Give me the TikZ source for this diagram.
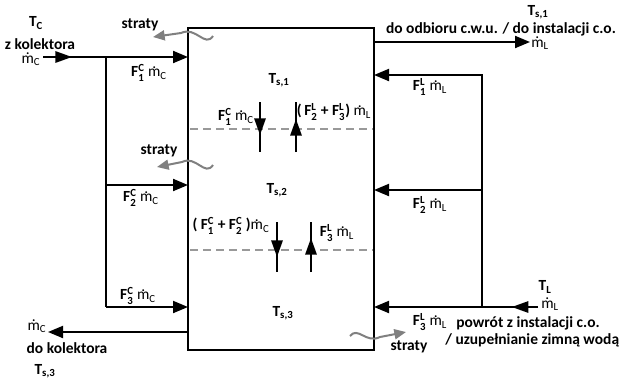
\documentclass[tikz,border=0pt]{standalone}
\usepackage{amsmath}
\usepackage{fontspec}
\setmainfont{Carlito}
\usetikzlibrary{arrows.meta,decorations.markings}

\newcommand{\mdt}{\leavevmode\hbox{\ooalign{m\cr\hidewidth\raisebox{1.2ex}{.}\hidewidth\cr}}}
\newcommand{\mfl}[1]{{\mdseries\mdt}$_{\text{\mdseries #1}}$}
\newcommand{\Fr}[2]{F$^{\text{#2}}_{\text{#1}}$}
\newcommand{\Ts}[1]{T$_{\text{s,#1}}$}

\begin{document}
\begin{tikzpicture}[
    x=0.03cm, y=-0.03cm,
    font=\fontsize{13.2}{15}\selectfont\bfseries,
    pipe/.style={line width=0.06cm},
    arr/.style={pipe, -{Triangle[length=0.45cm, width=0.36cm]}},
    midarr/.style={decoration={markings, mark=at position #1 with {\arrow{Triangle[length=0.5cm, width=0.34cm]}}}, postaction={decorate}},
    layer/.style={gray!80, line width=0.045cm, dash pattern=on 0.24cm off 0.15cm},
    loss/.style={gray, line width=0.06cm, -{Triangle[length=0.35cm, width=0.3cm]}},
    lbl/.style={inner sep=1pt}
  ]
    \useasboundingbox (0,0) rectangle (619,380);

    \node[draw, pipe, minimum width=5.58cm, minimum height=9.66cm, inner sep=0] (tank) at (281,189) {};

    \coordinate (cin) at (43,57);
    \coordinate (jc1) at (106,57);
    \coordinate (jc2) at (106,185);
    \coordinate (jc3) at (106,307);
    \coordinate (w1) at (188,57);
    \coordinate (w2) at (188,185);
    \coordinate (w3) at (188,307);
    \coordinate (w4) at (188,332);
    \coordinate (cout) at (48,332);

    \coordinate (e1) at (374,42);
    \coordinate (rout) at (530,42);
    \coordinate (e2) at (374,75);
    \coordinate (e3) at (374,190);
    \coordinate (e4) at (374,307);
    \coordinate (jl1) at (482,75);
    \coordinate (jl2) at (482,190);
    \coordinate (jl3) at (482,307);
    \coordinate (rin) at (538,307);

    \draw[arr, midarr=0.2] (cin) -- (w1);
    \draw[pipe] (jc1) -- (jc3);
    \draw[arr] (jc2) -- (w2);
    \draw[arr] (jc3) -- (w3);
    \draw[arr] (w4) -- (cout);

    \draw[arr] (e1) -- (rout);
    \draw[arr, midarr=0.16] (rin) -- (e4);
    \draw[arr] (jl3) -- (jl1) -- (e2);
    \draw[arr] (jl2) -- (e3);

    \coordinate (d1l) at (190,129);
    \coordinate (d1r) at (373,129);
    \coordinate (d2l) at (190,250);
    \coordinate (d2r) at (373,250);
    \draw[layer] (d1l) -- (d1r);
    \draw[layer] (d2l) -- (d2r);

    \coordinate (a1t) at (260,102);
    \coordinate (a1b) at (260,152);
    \coordinate (b1t) at (296,102);
    \coordinate (b1b) at (296,152);
    \coordinate (a2t) at (277,222);
    \coordinate (a2b) at (277,272);
    \coordinate (b2t) at (311,222);
    \coordinate (b2b) at (311,272);
    \draw[pipe, midarr=0.66] (a1t) -- (a1b);
    \draw[pipe, midarr=0.66] (b1b) -- (b1t);
    \draw[pipe, midarr=0.7] (a2t) -- (a2b);
    \draw[pipe, midarr=0.68] (b2b) -- (b2t);

    \draw[loss] (213,36) .. controls (205,48) and (196,26) .. (181,33) -- (153,37);
    \draw[loss] (213,165) .. controls (205,177) and (196,155) .. (182,162) -- (157,167);
    \draw[loss] (350,336) .. controls (358,326) and (366,344) .. (380,337) -- (406,332);

    \node[lbl] (tc) at (36,23) {T$_{\text{C}}$};
    \node[lbl] (zkol) at (40,44) {z kolektora};
    \node[lbl] (mcin) at (31,61) {\mfl{C}};
    \node[lbl] (f1c) at (149,73) {\Fr{1}{C} \mfl{C}};
    \node[lbl] (f2c) at (141,198) {\Fr{2}{C} \mfl{C}};
    \node[lbl] (f3c) at (138,296) {\Fr{3}{C} \mfl{C}};
    \node[lbl] (mcout) at (37,328) {\mfl{C}};
    \node[lbl] (dokol) at (67,348) {do kolektora};
    \node[lbl] (ts3out) at (45,371) {\Ts{3}};
    \node[lbl] (stA) at (140,25) {straty};
    \node[lbl] (stB) at (159,151) {straty};
    \node[lbl] (stC) at (409,347) {straty};

    \node[lbl] (ts1) at (279,80) {\Ts{1}};
    \node[lbl] (ts2) at (277,190) {\Ts{2}};
    \node[lbl] (ts3) at (283,313) {\Ts{3}};
    \node[lbl] (f1cin) at (236,117) {\Fr{1}{C} \mfl{C}};
    \node[lbl] (f23l) at (334,112) {(\,\Fr{2}{L} + \Fr{3}{L}) \mfl{L}};
    \node[lbl] (f12c) at (231,226) {( \Fr{1}{C} + \Fr{2}{C} )\mfl{C}};
    \node[lbl] (f3lin) at (337,233) {\Fr{3}{L} \mfl{L}};

    \node[lbl] (ts1out) at (538,12) {\Ts{1}};
    \node[lbl] (odb) at (501,29) {do odbioru c.w.u. / do instalacji c.o.};
    \node[lbl] (mlout) at (540,45) {\mfl{L}};
    \node[lbl] (f1l) at (430,87) {\Fr{1}{L} \mfl{L}};
    \node[lbl] (f2l) at (430,205) {\Fr{2}{L} \mfl{L}};
    \node[lbl] (f3l) at (430,322) {\Fr{3}{L} \mfl{L}};
    \node[lbl] (tl) at (545,287) {T$_{\text{L}}$};
    \node[lbl] (mlin) at (550,306) {\mfl{L}};
    \node[lbl] (powr) at (528,323) {powrót z instalacji c.o.};
    \node[lbl, anchor=west] (uzup) at (444,340) {/ uzupełnianie zimną wodą};
  \end{tikzpicture}
\end{document}
